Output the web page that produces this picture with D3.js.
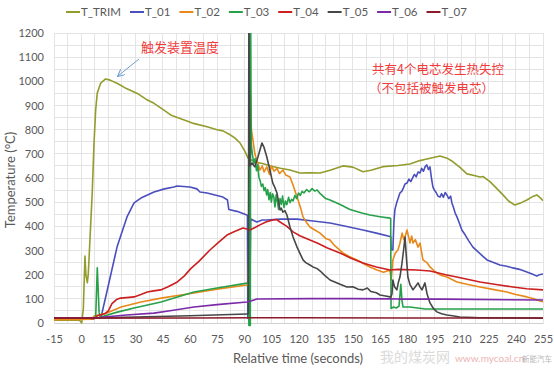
<!DOCTYPE html>
<html><head><meta charset="utf-8">
<script src="https://cdn.jsdelivr.net/npm/d3@7"></script>
<style>
body{margin:0;background:#fff;}
svg{display:block;font-family:Lato,"Noto Sans",sans-serif;}
</style></head>
<body><svg id="chart" width="554" height="369"></svg>
<script>
// ---------- DATA ----------
const seriesNames = ["T_TRIM","T_01","T_02","T_03","T_04","T_05","T_06","T_07"];
const seriesColors = ["#939c2c","#4b4fbd","#e8891a","#27a149","#cc1f1f","#474747","#7b2aa8","#8b1a2a"];
const xTicks = d3.range(-15, 256, 15);
const yTicks = d3.range(0, 1201, 100);

const T_TRIM = [[-15,12],[-1,12],[0.3,0],[1.2,60],[2.1,277],[2.6,200],[3.4,167],[3.9,200],[4.3,260],[6.1,538],[7.1,745],[8,881],[8.9,952],[10.8,993],[13.5,1010],[16,1005],[20.3,990],[25,970],[31,950],[36,925],[40,910],[45.7,881],[49.4,861],[55,845],[58.4,836],[62,826],[70,811],[75,800],[78.3,795],[82,780],[85,765],[87.7,745],[90.4,710],[92.1,683],[95.9,666],[100,660],[105.8,648],[110,640],[115.3,633],[120.8,621],[126.3,622],[131.9,621],[137.4,632],[144.5,650],[150,645],[155.6,626],[160,632],[166.6,647],[175,652],[181.5,658],[187,672],[190.9,679],[198.1,691],[202,682],[205.3,667],[209,645],[213,617],[217,610],[220.2,604],[222,606],[225.7,585],[229,560],[232.9,530],[236,505],[239.5,488],[243,498],[246.1,509],[249,522],[251.6,530],[253.5,518],[255,506]];

const T_01 = [[-15,20],[9.8,20],[11,25],[14.8,149],[19.8,314],[25.3,439],[29.2,497],[33,517],[40.2,542],[46,555],[51.2,563],[52.9,567],[60,563],[63.9,555],[65.6,542],[69.5,538],[78.3,521],[80.8,509],[81.5,470],[86,462],[91.5,447],[91.8,445],[92.0,20],[93.0,20],[93.6,430],[95,425],[97,418],[100,426],[102.5,426],[110,430],[119.2,430],[128,422],[137.4,414],[146,400],[155.6,385],[163,372],[170.5,358],[170.9,358],[171.2,302],[172.1,302],[172.7,420],[173.2,468],[174.3,500],[175,515],[176,538],[177,545],[178,560],[178.8,575],[179.9,579],[181,595],[182,585],[183.2,604],[184,615],[185,605],[186,625],[187.1,621],[188,640],[189,628],[190,648],[190.9,654],[191.7,635],[192.6,646],[193.4,600],[194.2,563],[195,550],[196,540],[197,525],[198.1,521],[199,535],[200,520],[201,540],[201.9,530],[203,515],[204,525],[204.7,497],[205.5,480],[206.5,455],[207.5,439],[209,410],[210.2,385],[212,365],[214,340],[216.3,314],[219,295],[222,275],[224.1,261],[227,252],[231.2,240],[235,235],[238.4,228],[242,222],[246.1,211],[249,203],[251.6,194],[253,200],[255,203]];

const T_02 = [[-15,14],[6,16],[7.1,29],[14.2,41],[22,66],[33,87],[44.1,103],[55.1,116],[62.3,124],[75,140],[91.5,157],[92.3,160],[93.4,935],[94,800],[94.8,760],[95.9,700],[97,674],[98.7,633],[100,650],[101,625],[102.5,646],[104,615],[105,650],[106.5,628],[108.1,640],[109.5,618],[111.4,633],[113,612],[115.3,604],[117,570],[119.2,521],[121,480],[122.5,439],[124.5,415],[126.3,397],[129,385],[131.9,372],[135,350],[137.4,343],[140,320],[144.5,290],[148,275],[152.3,261],[156,245],[159.4,232],[163,220],[167,210],[170.5,219],[171.2,178],[172.1,261],[173.5,290],[174.9,302],[176,330],[177.2,372],[178.2,345],[178.8,356],[179.9,385],[181,350],[181.5,331],[182.5,360],[183.2,331],[184.5,345],[186,314],[187.1,331],[188.7,261],[190.9,250],[192.6,232],[195,215],[198.1,199],[202,190],[207.5,170],[213,160],[220.2,149],[228,138],[235.1,128],[240,118],[246.1,108],[250,100],[253.3,91],[255,88]];

const T_03 = [[-15,20],[8,20],[8.9,228],[9.9,45],[10.4,25],[12.6,29],[20,45],[29.2,62],[44.1,87],[62.3,128],[75,145],[91.6,165],[92.3,165],[92.6,-10],[92.8,1260],[93.0,-10],[93.2,1260],[93.4,-10],[93.6,1260],[93.9,745],[94.5,700],[95.3,660],[96,680],[96.8,630],[97.5,655],[98.2,600],[98.8,590],[99.5,565],[100.3,575],[101,548],[101.7,560],[102.4,530],[103,552],[103.7,510],[104.4,540],[105,500],[105.7,535],[106.4,520],[107,480],[107.7,530],[108.4,500],[109,470],[109.8,515],[110.5,490],[111.2,525],[112,478],[112.8,505],[113.6,490],[114.5,520],[115.3,498],[116.2,512],[117,505],[118,528],[119,515],[120,538],[121,528],[122,545],[123,538],[124.5,552],[126,543],[127.5,556],[129,546],[130.3,550],[132,535],[135,515],[137.4,509],[143,490],[148.4,470],[155,455],[159.4,447],[165,440],[170.5,434],[170.9,432],[171.1,60],[172.5,66],[174,62],[175.5,70],[176.5,160],[177.1,95],[177.7,66],[181.5,66],[190,58],[200,58],[255,58]];

const T_04 = [[-15,20],[5,20],[7,17],[9,30],[13,38],[15,50],[17,80],[19.5,97],[21.8,103],[25,105],[29.2,108],[33,118],[36.5,128],[40,133],[43.9,137],[48,150],[53.1,170],[57,195],[60.5,225],[65,255],[71.1,302],[76,335],[80.5,364],[85,380],[89.3,393],[91,390],[93.2,385],[96,395],[98.7,406],[102,418],[105.8,426],[108,428],[109.8,418],[113.6,400],[117,377],[121,360],[126.3,343],[130.3,331],[136,310],[142.9,290],[149,268],[155.6,248],[163,232],[170.5,219],[175,222],[185.4,219],[192.6,215],[201.9,199],[210,186],[220.2,170],[230,158],[238.4,149],[246,142],[255,137]];

const T_05 = [[-15,20],[5,20],[10,22],[30,25],[60,30],[91.5,37],[92.3,37],[92.6,1260],[93.2,650],[94.3,662],[95.9,646],[97.6,687],[99.8,745],[100.9,728],[102.5,687],[104.2,633],[105.8,579],[107,560],[108.1,538],[109.8,468],[110.5,475],[111.4,459],[112.5,465],[113.6,447],[115.3,397],[117,356],[119.2,314],[121,285],[122.5,261],[124,250],[126.3,240],[128,232],[130.3,225],[132,215],[134,200],[137.4,178],[140,170],[143,160],[146.7,149],[150,150],[153,140],[155.6,137],[158,145],[160,130],[163,125],[165,116],[168,112],[170.5,108],[171,108],[171.6,120],[172.1,178],[173,150],[174.3,137],[175.2,170],[176,190],[177,240],[178,300],[178.8,356],[179.5,280],[180.4,190],[181.5,160],[183.2,137],[184.5,150],[186,166],[187,150],[188.2,137],[189.8,166],[191,120],[192.6,83],[194.5,60],[196.4,46],[199,38],[201.9,33],[205,30],[209.1,25],[220,22],[255,20]];

const T_06 = [[-15,20],[5,20],[10,22],[12.6,25],[25,33],[40.2,41],[50,52],[62.3,66],[75,76],[91.5,87],[92.2,88],[97,99],[126,101],[150,101],[170.5,100],[175,99],[200,99],[255,95]];

const T_07 = [[-15,20],[60,21],[120,22],[180,21],[255,21]];

const seriesData = [T_TRIM, T_01, T_02, T_03, T_04, T_05, T_06, T_07];

// ---------- LAYOUT ----------
const svg = d3.select("#chart");
const L = 54, R = 543, T = 33, B = 323;
const x = d3.scaleLinear().domain([-15, 255]).range([L, R]);
const y = d3.scaleLinear().domain([0, 1200]).range([B, T]);

// grid (major + minor)
const grid = svg.append("g");
grid.selectAll("line.gx").data(d3.range(-15, 256, 7.5)).join("line")
  .attr("x1", d => x(d)).attr("x2", d => x(d)).attr("y1", T).attr("y2", B)
  .attr("stroke", "#e4e4e4").attr("stroke-width", 1).attr("shape-rendering","crispEdges");
grid.selectAll("line.gy").data(d3.range(0, 1201, 50)).join("line")
  .attr("y1", d => y(d)).attr("y2", d => y(d)).attr("x1", L).attr("x2", R)
  .attr("stroke", "#e4e4e4").attr("stroke-width", 1).attr("shape-rendering","crispEdges");

// watermark (behind chart marks), kept clear of the axis labels
svg.append("text").attr("x", 380).attr("y", 362).attr("fill", "#cfcfcf").attr("opacity", 0.75)
  .style("font-size", "14px").style("font-family","Noto Sans CJK SC").text("我的煤炭网");
svg.append("text").attr("x", 455).attr("y", 362).attr("fill", "#e9a2a2").attr("opacity", 0.8)
  .style("font-size", "10px").style("font-family","Lato").text("www.mycoal.cn");
svg.append("text").attr("x", 522).attr("y", 362).attr("fill", "#888").attr("opacity", 0.6)
  .style("font-size", "7.5px").style("font-family","Noto Sans CJK SC").text("新能汽车");

// axes
const fmt = d => String(d);
const xAxis = svg.append("g").attr("transform", `translate(0,${B})`)
  .call(d3.axisBottom(x).tickValues(xTicks).tickFormat(fmt).tickSize(0).tickPadding(12));
xAxis.select(".domain").attr("stroke", "#d0d0d0");
xAxis.selectAll("text").attr("fill", "#595959").style("font-size", "11px").style("font-family","Lato");

const yAxis = svg.append("g").attr("transform", `translate(${L},0)`)
  .call(d3.axisLeft(y).tickValues(yTicks).tickFormat(fmt).tickSize(0).tickPadding(10));
yAxis.select(".domain").remove();
yAxis.selectAll("text").attr("fill", "#595959").style("font-size", "11px").style("font-family","Lato");

// axis titles
svg.append("text").attr("transform", "translate(15,180) rotate(-90)")
  .attr("text-anchor", "middle").attr("fill", "#595959")
  .style("font-size", "13px").style("font-family","Lato").text("Temperature (°C)");
svg.append("text").attr("x", 298).attr("y", 363)
  .attr("text-anchor", "middle").attr("fill", "#595959")
  .style("font-size", "13px").style("font-family","Lato").text("Relative time (seconds)");

// clip
svg.append("clipPath").attr("id", "clip").append("rect")
  .attr("x", L).attr("y", T).attr("width", R - L).attr("height", B - T + 4);

const line = d3.line().x(d => x(d[0])).y(d => y(d[1]));
const plot = svg.append("g").attr("clip-path", "url(#clip)");
seriesData.forEach((s, i) => {
  plot.append("path").datum(s).attr("d", line)
    .attr("fill", "none").attr("stroke", seriesColors[i])
    .attr("stroke-width", 1.6).attr("stroke-linejoin", "round");
});

// legend
const leg = svg.append("g");
let lx = 66;
seriesNames.forEach((n, i) => {
  leg.append("line").attr("x1", lx).attr("x2", lx + 14).attr("y1", 12).attr("y2", 12)
    .attr("stroke", seriesColors[i]).attr("stroke-width", 2);
  const t = leg.append("text").attr("x", lx + 15).attr("y", 16)
    .attr("fill", "#595959").style("font-size", "11.5px").style("font-family","Lato").text(n);
  lx += 15 + t.node().getComputedTextLength() + 9;
});

// annotations
svg.append("defs").append("marker").attr("id", "arr").attr("viewBox", "0 0 10 10")
  .attr("refX", 9).attr("refY", 5).attr("markerWidth", 7).attr("markerHeight", 7)
  .attr("orient", "auto").append("path").attr("d", "M0,0 L10,5 L0,10").attr("fill","none")
  .attr("stroke", "#6f9fd0").attr("stroke-width", 1.5);
svg.append("line").attr("x1", 139).attr("y1", 59).attr("x2", 118).attr("y2", 76)
  .attr("stroke", "#6f9fd0").attr("stroke-width", 1).attr("marker-end", "url(#arr)");
svg.append("text").attr("x", 141).attr("y", 51.5).attr("fill", "#f03c3c")
  .style("font-size", "13px").style("font-family","Noto Sans CJK SC").text("触发装置温度");
svg.append("text").attr("x", 372).attr("y", 74).attr("fill", "#f03c3c")
  .style("font-size", "12.5px").style("font-family","Noto Sans CJK SC").text("共有4个电芯发生热失控");
svg.append("text").attr("x", 369).attr("y", 92.5).attr("fill", "#f03c3c")
  .style("font-size", "12.5px").style("font-family","Noto Sans CJK SC").text("（不包括被触发电芯）");
</script>
</body></html>
